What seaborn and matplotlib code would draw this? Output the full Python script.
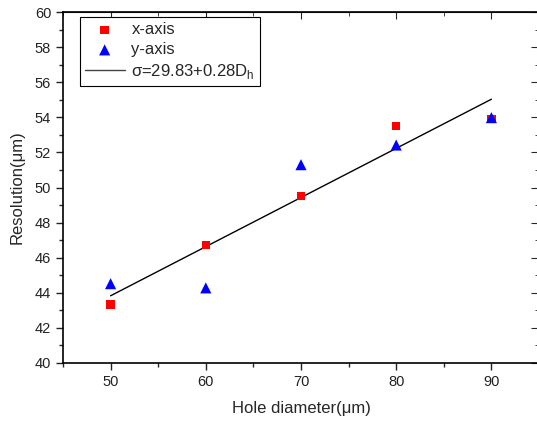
import matplotlib
matplotlib.use("Agg")
import matplotlib.pyplot as plt
from matplotlib.ticker import MultipleLocator, NullFormatter
import seaborn as sns
import pandas as pd
import numpy as np

# data
hole_diameter = [50, 60, 70, 80, 90]
x_axis_res = [43.33, 46.72, 49.52, 53.52, 53.92]
y_axis_res = [44.52, 44.28, 51.30, 52.42, 53.98]
fit_intercept = 29.83
fit_slope = 0.28
fit_label = r"σ=29.83+0.28D$_\mathregular{h}$"

sns.set_style("ticks")
plt.rcParams["font.family"] = ["Liberation Sans", "DejaVu Sans"]
plt.rcParams["mathtext.fontset"] = "custom"
plt.rcParams["mathtext.rm"] = "Liberation Sans"

fig = plt.figure(figsize=(5.37, 4.22), dpi=100)
ax = fig.add_axes([63 / 537, 59 / 422, 476 / 537, 351 / 422])

df = pd.DataFrame({"d": hole_diameter, "x": x_axis_res, "y": y_axis_res})
fit_x = np.array([hole_diameter[0], hole_diameter[-1]])
fit_df = pd.DataFrame({"d": fit_x, "fit": fit_intercept + fit_slope * fit_x})

sns.scatterplot(data=df, x="d", y="x", marker="s", s=6 ** 2, color="#FF0000",
                edgecolor="none", label="x-axis", ax=ax, zorder=3)
sns.scatterplot(data=df, x="d", y="y", marker="^", s=8 ** 2, color="#0000FF",
                edgecolor="none", label="y-axis", ax=ax, zorder=3)
sns.lineplot(data=fit_df, x="d", y="fit", color="black", lw=1.0,
             label=fit_label, ax=ax, zorder=2)

ax.set_xlim(45, 95)
ax.set_ylim(40, 60)
ax.xaxis.set_major_locator(MultipleLocator(10))
ax.xaxis.set_minor_locator(MultipleLocator(5))
ax.yaxis.set_major_locator(MultipleLocator(2))
ax.yaxis.set_minor_locator(MultipleLocator(1))
ax.tick_params(which="major", direction="out", length=5, width=1, labelsize=10.5,
               colors="#222222", labelcolor="#222222")
ax.tick_params(which="minor", direction="out", length=3, width=1)

for sp in ax.spines.values():
    sp.set_visible(True)
    sp.set_linewidth(1.2)
    sp.set_color("black")

top = ax.secondary_xaxis("top")
top.xaxis.set_major_locator(MultipleLocator(10))
top.xaxis.set_minor_locator(MultipleLocator(5))
top.tick_params(which="both", direction="in", labeltop=False)
top.tick_params(which="major", length=5)
top.tick_params(which="minor", length=3)
top.xaxis.set_major_formatter(NullFormatter())
right = ax.secondary_yaxis("right")
right.yaxis.set_major_locator(MultipleLocator(2))
right.yaxis.set_minor_locator(MultipleLocator(1))
right.tick_params(which="both", direction="in", labelright=False)
right.tick_params(which="major", length=6)
right.tick_params(which="minor", length=3)
right.yaxis.set_major_formatter(NullFormatter())

ax.set_xlabel("Hole diameter(μm)", fontsize=12, labelpad=9)
ax.set_ylabel("Resolution(μm)", fontsize=12, labelpad=7)

leg = ax.legend(loc="upper left", bbox_to_anchor=(0.035, 0.985), fontsize=12,
                frameon=True, fancybox=False, edgecolor="black", framealpha=1,
                labelspacing=0.3, handlelength=2.4, handletextpad=0.4,
                borderpad=0.3, borderaxespad=0)
leg.get_frame().set_linewidth(0.8)
for h in leg.legend_handles:
    if isinstance(h, matplotlib.lines.Line2D):
        h.set_color("#444444")

fig.savefig("out.png", dpi=100)
